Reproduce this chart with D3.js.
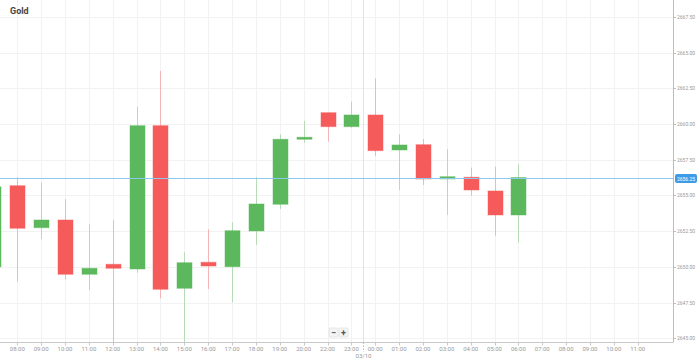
<!DOCTYPE html>
<html>
<head>
<meta charset="utf-8">
<script src="https://cdn.jsdelivr.net/npm/d3@7"></script>
<style>
  html, body { margin: 0; padding: 0; background: #fff; }
  svg { display: block; font-family: Roboto, "Open Sans", sans-serif; }
</style>
</head>
<body>
<script>
// hourly slots, 21:00 is skipped (market break)
var slots = ['07:00', '08:00', '09:00', '10:00', '11:00', '12:00', '13:00', '14:00', '15:00', '16:00',
	'17:00', '18:00', '19:00', '20:00', '22:00', '23:00', '00:00', '01:00', '02:00', '03:00',
	'04:00', '05:00', '06:00', '07:00', '08:00', '09:00', '10:00', '11:00'];
// first slot (07:00) is only partly visible on the left
var opens  = [2650.0, 2655.68, 2652.74, 2653.28, 2649.48, 2650.18, 2649.85, 2659.88, 2648.50, 2650.32,
	2650.01, 2652.51, 2654.38, 2658.93, 2660.79, 2659.81, 2660.63, 2658.18, 2658.55, 2656.15,
	2656.27, 2655.31, 2653.63];
var highs  = [2656.0, 2656.27, 2655.89, 2654.73, 2652.98, 2653.28, 2661.21, 2663.71, 2651.02, 2652.63,
	2653.12, 2656.27, 2659.28, 2660.21, 2660.79, 2661.56, 2663.19, 2659.28, 2658.95, 2658.23,
	2656.94, 2657.01, 2657.18];
var lows   = [2649.5, 2648.96, 2651.95, 2649.13, 2648.38, 2644.6, 2649.59, 2647.80, 2644.6, 2648.45,
	2647.52, 2651.53, 2654.05, 2658.69, 2658.76, 2659.74, 2657.76, 2655.38, 2655.73, 2653.63,
	2654.98, 2652.18, 2651.72];
var closes = [2655.6, 2652.70, 2653.28, 2649.48, 2649.90, 2649.90, 2659.88, 2648.43, 2650.29, 2650.06,
	2652.53, 2654.40, 2658.93, 2659.07, 2659.81, 2660.63, 2658.13, 2658.53, 2656.15, 2656.31,
	2655.38, 2653.63, 2656.25];
var priceTicks = [2645, 2647.5, 2650, 2652.5, 2655, 2657.5, 2660, 2662.5, 2665, 2667.5];
var lastPrice = 2656.25;
var dateLabel = '03/10';

var W = 699, H = 362;
var plotRight = 673, axisY = 342.5;

var svg = d3.select('body').append('svg').attr('width', W).attr('height', H);

// slot index -> pixel (07:00 of the first day sits at index 0)
var x = d3.scaleLinear().domain([1, 27]).range([17.3, 637.7]);
var y = d3.scaleLinear().domain([2645, 2667.5]).range([338.3, 16.8]);

var slotIdx = d3.range(1, slots.length);

// grid
var grid = svg.append('g');
grid.selectAll('line.v').data(slotIdx).enter().append('line')
	.attr('x1', function(d) { return Math.round(x(d)) + 0.5; })
	.attr('x2', function(d) { return Math.round(x(d)) + 0.5; })
	.attr('y1', 0).attr('y2', axisY)
	.attr('stroke', '#f2f2f2');
grid.selectAll('line.h').data(priceTicks).enter().append('line')
	.attr('x1', 0).attr('x2', plotRight)
	.attr('y1', function(d) { return Math.round(y(d)) + 0.5; })
	.attr('y2', function(d) { return Math.round(y(d)) + 0.5; })
	.attr('stroke', '#f2f2f2');

// day separator between 23:00 and 00:00
var sepX = Math.round((x(15) + x(16)) / 2) + 0.5;
svg.append('line').attr('x1', sepX).attr('x2', sepX).attr('y1', 0).attr('y2', axisY)
	.attr('stroke', '#e2e2e2');

// candles
var candles = svg.append('g').selectAll('g').data(opens.map(function(o, i) {
	return {i: i, o: o, h: highs[i], l: lows[i], c: closes[i]};
})).enter().append('g');

function col(d) { return d.c >= d.o ? '#5cb85c' : '#f65b5b'; }

candles.append('line')
	.attr('x1', function(d) { return Math.round(x(d.i)) + 0.5; })
	.attr('x2', function(d) { return Math.round(x(d.i)) + 0.5; })
	.attr('y1', function(d) { return y(d.h); })
	.attr('y2', function(d) { return Math.min(y(d.l), axisY); })
	.attr('stroke', col).attr('stroke-opacity', 0.4);

candles.append('rect')
	.attr('x', function(d) { return Math.round(x(d.i)) - 7; })
	.attr('width', 15)
	.attr('y', function(d) { return y(Math.max(d.o, d.c)); })
	.attr('height', function(d) { return Math.max(1.5, Math.abs(y(d.o) - y(d.c))); })
	.attr('fill', col)
	.attr('stroke', col).attr('stroke-opacity', 0.45).attr('stroke-width', 1);

// current price line
var lpY = Math.round(y(lastPrice)) + 0.5;
svg.append('line').attr('x1', 0).attr('x2', plotRight).attr('y1', lpY).attr('y2', lpY)
	.attr('stroke', '#8fc8ee').attr('stroke-width', 1);

// bottom axis
var xAxis = svg.append('g');
xAxis.append('line').attr('x1', 0).attr('x2', plotRight).attr('y1', axisY).attr('y2', axisY)
	.attr('stroke', '#c8c8c8');
xAxis.selectAll('line.t').data(slotIdx).enter().append('line')
	.attr('x1', function(d) { return Math.round(x(d)) + 0.5; })
	.attr('x2', function(d) { return Math.round(x(d)) + 0.5; })
	.attr('y1', axisY).attr('y2', axisY + 3)
	.attr('stroke', '#c8c8c8');
xAxis.selectAll('text').data(slotIdx).enter().append('text')
	.attr('x', function(d) { return x(d); })
	.attr('y', 351)
	.attr('text-anchor', 'middle')
	.attr('font-size', 6)
	.attr('fill', '#999')
	.text(function(d) { return slots[d]; });
xAxis.append('line').attr('x1', sepX).attr('x2', sepX).attr('y1', axisY).attr('y2', 352)
	.attr('stroke', '#bbb').attr('stroke-dasharray', '1.5,1.5');
xAxis.append('text').attr('x', sepX).attr('y', 357.5).attr('text-anchor', 'middle')
	.attr('font-size', 6).attr('fill', '#999').text(dateLabel);

// right axis
var yAxis = svg.append('g');
yAxis.append('line').attr('x1', plotRight + 0.5).attr('x2', plotRight + 0.5).attr('y1', 0).attr('y2', axisY)
	.attr('stroke', '#bdbdbd');
yAxis.selectAll('line.t').data(priceTicks).enter().append('line')
	.attr('x1', plotRight).attr('x2', plotRight + 3)
	.attr('y1', function(d) { return Math.round(y(d)) + 0.5; })
	.attr('y2', function(d) { return Math.round(y(d)) + 0.5; })
	.attr('stroke', '#bdbdbd');
yAxis.selectAll('text').data(priceTicks).enter().append('text')
	.attr('x', 677)
	.attr('y', function(d) { return y(d) + 2; })
	.attr('font-size', 5)
	.attr('fill', '#999')
	.text(function(d) { return d3.format('.2f')(d); });

// last price tag
yAxis.append('rect').attr('x', 675).attr('y', lpY - 4.5).attr('width', 22).attr('height', 9)
	.attr('rx', 2).attr('fill', '#3e9ce6');
yAxis.append('text').attr('x', 686).attr('y', lpY + 2).attr('text-anchor', 'middle')
	.attr('font-size', 5).attr('fill', '#fff').text(d3.format('.2f')(lastPrice));

// title
svg.append('text').attr('x', 10).attr('y', 14).attr('font-size', 9).attr('font-weight', 'bold')
	.attr('fill', '#444').text('Gold');

// zoom buttons
var zb = svg.append('g');
['\u2212', '+'].forEach(function(s, k) {
	zb.append('rect').attr('x', 329 + k * 10).attr('y', 328).attr('width', 9).attr('height', 9)
		.attr('rx', 1).attr('fill', '#f4f4f4').attr('stroke', '#e6e6e6');
	zb.append('text').attr('x', 333.5 + k * 10).attr('y', 335.5).attr('text-anchor', 'middle')
		.attr('font-size', 9).attr('font-weight', 'bold').attr('fill', '#555').text(s);
});
</script>
</body>
</html>
